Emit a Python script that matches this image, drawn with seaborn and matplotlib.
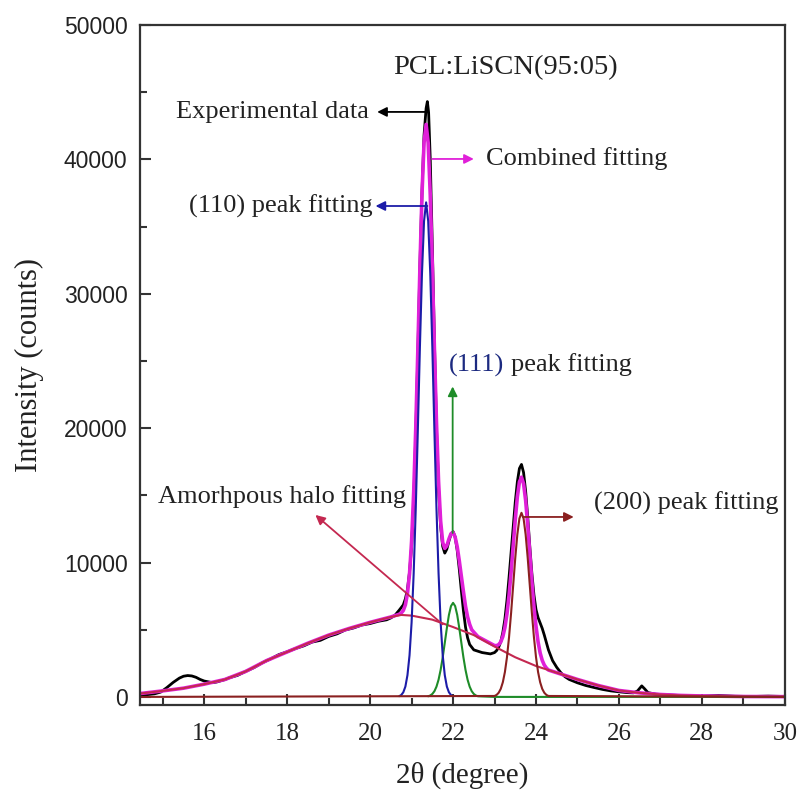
import matplotlib
matplotlib.use("Agg")
import matplotlib.pyplot as plt
import seaborn as sns
from matplotlib.ticker import MultipleLocator

# experimental XRD pattern
exp_x = [14.45, 14.6, 14.8, 14.95, 15.1, 15.25, 15.4, 15.5, 15.6, 15.7, 15.8, 15.9, 16.0, 16.1, 16.2,
         16.3, 16.5, 16.6, 16.8, 17.0, 17.2, 17.4, 17.6, 17.8, 18.0, 18.2, 18.4, 18.6, 18.8, 19.0,
         19.2, 19.4, 19.6, 19.8, 20.0, 20.2, 20.4, 20.5, 20.6, 20.7, 20.8, 20.85, 20.9, 20.95, 21.0,
         21.05, 21.1, 21.15, 21.2, 21.25, 21.3, 21.35, 21.38, 21.41, 21.45, 21.5, 21.55, 21.6, 21.65,
         21.7, 21.75, 21.8, 21.85, 21.9, 21.95, 22.0, 22.05, 22.1, 22.15, 22.2, 22.25, 22.3, 22.35,
         22.4, 22.5, 22.6, 22.7, 22.8, 22.9, 23.0, 23.05, 23.1, 23.15, 23.2, 23.25, 23.3, 23.35, 23.4,
         23.45, 23.5, 23.55, 23.6, 23.65, 23.7, 23.75, 23.8, 23.85, 23.9, 23.95, 24.0, 24.05, 24.1,
         24.15, 24.2, 24.3, 24.4, 24.5, 24.6, 24.7, 24.8, 25.0, 25.2, 25.4, 25.6, 25.8, 26.0, 26.2,
         26.35, 26.45, 26.55, 26.62, 26.7, 26.9, 27.2, 27.5, 28.0, 28.4, 28.8, 29.2, 29.6, 30.0]
exp_y = [120, 160, 230, 360, 700, 1080, 1400, 1540, 1590, 1560, 1460, 1300, 1180, 1120, 1060,
         1110, 1290, 1420, 1600, 1900, 2180, 2540, 2830, 3150, 3360, 3600, 3800, 4080, 4210, 4500,
         4690, 4980, 5130, 5350, 5460, 5630, 5740, 5880, 6080, 6450, 6850, 7300, 8000, 9300, 11200,
         14500, 19500, 25500, 32000, 37500, 41800, 43800, 44300, 43500, 40000, 33500, 26500, 20000, 15500,
         12700, 11200, 10700, 11000, 11600, 12100, 12300, 11900, 10900, 9500, 7900, 6400, 5200, 4400,
         3900, 3500, 3400, 3300, 3250, 3200, 3300, 3450, 3700, 4100, 4800, 5800, 7200, 8900, 10800,
         12700, 14500, 16000, 17000, 17300, 16700, 15300, 13400, 11200, 9200, 7600, 6500, 5900, 5500,
         5100, 4600, 3500, 2700, 2200, 1800, 1500, 1300, 1050, 850, 700, 560, 450, 380, 320,
         300, 450, 820, 600, 320, 200, 150, 100, 60, 110, 50, 30, 60, 30]

# combined fitting
comb_x = [14.45, 15.0, 15.5, 16.0, 16.5, 17.0, 17.5, 18.0, 18.5, 19.0, 19.5, 20.0, 20.5,
          20.7, 20.75, 20.8, 20.85, 20.9, 20.95, 21.0, 21.05, 21.1, 21.15, 21.2, 21.25, 21.3, 21.35,
          21.4, 21.45, 21.5, 21.55, 21.6, 21.65, 21.7, 21.75, 21.8, 21.85, 21.9, 21.95, 22.0, 22.05,
          22.1, 22.15, 22.2, 22.25, 22.3, 22.35, 22.4, 22.45, 22.5, 22.6, 22.8, 23.0, 23.05, 23.1,
          23.15, 23.2, 23.25, 23.3, 23.35, 23.4, 23.45, 23.5, 23.55, 23.6, 23.65, 23.7, 23.75, 23.8,
          23.85, 23.9, 23.95, 24.0, 24.05, 24.1, 24.15, 24.2, 24.25, 24.3, 24.5, 25.0, 25.5, 26.0,
          26.5, 27.0, 27.5, 28.0, 29.0, 30.0]
comb_y = [250, 450, 650, 950, 1300, 1900, 2700, 3350, 4000, 4600, 5100, 5550, 5950,
          6150, 6240, 6430, 6850, 7690, 9160, 11600, 15200, 19980, 25750, 31900, 37380, 41240, 42600,
          41220, 37340, 31970, 25900, 20400, 16050, 13080, 11500, 11050, 11250, 11750, 12150, 12250, 11890,
          11170, 10130, 8970, 7830, 6750, 5960, 5400, 5000, 4820, 4480, 4150, 3820, 3820, 3890,
          4090, 4490, 5160, 6180, 7580, 9310, 11260, 13190, 14880, 16000, 16350, 15870, 14620, 12800,
          10700, 8600, 6720, 5260, 4090, 3270, 2720, 2370, 2150, 2000, 1800, 1300, 850, 480,
          300, 180, 110, 70, 30, 20]

# amorphous halo fitting
halo_x = [14.45, 15.0, 15.5, 16.0, 16.5, 17.0, 17.5, 18.0, 18.5, 19.0, 19.5, 20.0, 20.5, 20.75,
          21.0, 21.5, 22.0, 22.5, 23.0, 23.5, 24.0, 24.5, 25.0, 25.5, 26.0, 26.5, 27.0, 27.5,
          28.0, 29.0, 30.0]
halo_y = [250, 450, 650, 950, 1300, 1900, 2700, 3350, 4000, 4600, 5100, 5550, 5950, 6100,
          6050, 5750, 5200, 4600, 3750, 2950, 2300, 1800, 1300, 850, 480, 300, 180, 110,
          70, 30, 20]

# (110) peak fitting
p110_x = [20.70, 20.75, 20.80, 20.85, 20.90, 20.95, 21.00, 21.05, 21.10, 21.15, 21.20, 21.25, 21.30,
          21.35, 21.40, 21.45, 21.50, 21.55, 21.60, 21.65, 21.70, 21.75, 21.80, 21.85, 21.90, 21.95,
          22.00]
p110_y = [55, 140, 345, 770, 1620, 3100, 5550, 9200, 14000, 19800, 26000, 31500, 35400,
          36800, 35400, 31500, 26000, 19800, 14000, 9200, 5550, 3100, 1620, 770, 345, 140,
          55]

# (111) peak fitting
p111_x = [21.40, 21.45, 21.50, 21.55, 21.60, 21.65, 21.70, 21.75, 21.80, 21.85, 21.90, 21.95, 22.00,
          22.05, 22.10, 22.15, 22.20, 22.25, 22.30, 22.35, 22.40, 22.45, 22.50, 22.55, 22.60, 23.0,
          30.0]
p111_y = [48, 106, 220, 424, 765, 1280, 2010, 2940, 4020, 5120, 6100, 6760, 7000,
          6760, 6100, 5120, 4020, 2940, 2010, 1280, 765, 424, 220, 106, 48, 0,
          0]

# (200) peak fitting
p200_x = [14.45, 23.00, 23.05, 23.10, 23.15, 23.20, 23.25, 23.30, 23.35, 23.40, 23.45, 23.50, 23.55,
          23.60, 23.65, 23.70, 23.75, 23.80, 23.85, 23.90, 23.95, 24.00, 24.05, 24.10, 24.15, 24.20,
          24.25, 24.30, 30.0]
p200_y = [0, 70, 150, 310, 600, 1090, 1850, 2960, 4450, 6270, 8310, 10340, 12090,
          13280, 13700, 13280, 12090, 10340, 8310, 6270, 4450, 2960, 1850, 1090, 600, 310,
          150, 70, 0]

c_mag = "#e020d8"
c_blue = "#1c1ca8"
c_green = "#1e8c28"
c_halo = "#c42850"
c_brown = "#8a2020"

sns.set_theme(style="ticks")
plt.rcParams["font.family"] = ["Liberation Serif", "DejaVu Serif"]

fig = plt.figure(figsize=(8, 7.93), dpi=100)
ax = fig.add_axes([0.175, 0.111, 0.806, 0.8575])

sns.lineplot(x=exp_x, y=exp_y, ax=ax, color="black", lw=2.0)
sns.lineplot(x=comb_x, y=comb_y, ax=ax, color=c_mag, lw=2.6)
sns.lineplot(x=halo_x, y=halo_y, ax=ax, color=c_halo, lw=1.5)
sns.lineplot(x=p111_x, y=p111_y, ax=ax, color=c_green, lw=1.5)
sns.lineplot(x=p110_x, y=p110_y, ax=ax, color=c_blue, lw=1.5)
sns.lineplot(x=p200_x, y=p200_y, ax=ax, color=c_brown, lw=1.5)

ax.set_xlim(14.45, 30)
ax.set_ylim(-600, 50000)
ax.xaxis.set_major_locator(MultipleLocator(2))
ax.xaxis.set_minor_locator(MultipleLocator(1))
ax.yaxis.set_major_locator(MultipleLocator(10000))
ax.yaxis.set_minor_locator(MultipleLocator(5000))
ax.tick_params(which="both", direction="in", top=False, right=False, width=1.5, color="#333333")
ax.tick_params(which="major", length=8)
ax.tick_params(which="minor", length=5)
ax.tick_params(axis="y", pad=9)
ax.tick_params(axis="x", pad=13)
for s in ax.spines.values():
    s.set_linewidth(1.6)
    s.set_color("#333333")

for lab in ax.get_yticklabels():
    lab.set_fontfamily("Liberation Sans")
    lab.set_fontsize(16.5)
    lab.set_color("#222222")
for lab in ax.get_xticklabels():
    lab.set_fontfamily("Liberation Serif")
    lab.set_fontsize(18)
    lab.set_color("#222222")

ax.set_xlabel("2θ (degree)", fontsize=21, labelpad=12, color="#222222")
ax.set_ylabel("Intensity (counts)", fontsize=22, labelpad=14, color="#222222")

tfs = 19
ax.text(23.27, 46800, "PCL:LiSCN(95:05)", fontsize=20.5, ha="center", va="center", color="#222222")

arr = dict(arrowstyle="-|>", lw=1.3, mutation_scale=14, shrinkA=0, shrinkB=0)
ax.annotate("", xy=(20.17, 43530), xytext=(21.38, 43530), arrowprops=dict(arr, color="black"))
ax.text(19.98, 43530, "Experimental data", fontsize=tfs, ha="right", va="center", color="#222222")

ax.annotate("", xy=(22.5, 40030), xytext=(21.5, 40030), arrowprops=dict(arr, color=c_mag))
ax.text(22.79, 40030, "Combined fitting", fontsize=tfs, ha="left", va="center", color="#222222")

ax.annotate("", xy=(20.13, 36530), xytext=(21.38, 36530), arrowprops=dict(arr, color=c_blue))
ax.text(20.05, 36530, "(110) peak fitting", fontsize=tfs, ha="right", va="center", color="#222222")

ax.annotate("", xy=(21.99, 23100), xytext=(21.99, 12200), arrowprops=dict(arr, color=c_green))
ax.text(21.89, 24700, "(111)", fontsize=tfs, ha="left", va="center", color="#1c2a80")
ax.text(23.40, 24700, "peak fitting", fontsize=tfs, ha="left", va="center", color="#222222")

ax.annotate("", xy=(24.91, 13390), xytext=(23.68, 13390), arrowprops=dict(arr, color=c_brown))
ax.text(25.39, 14430, "(200) peak fitting", fontsize=tfs, ha="left", va="center", color="#222222")

ax.annotate("", xy=(18.68, 13540), xytext=(21.75, 5400), arrowprops=dict(arr, color=c_halo))
ax.text(14.88, 14880, "Amorhpous halo fitting", fontsize=tfs, ha="left", va="center", color="#222222")

fig.savefig("out.png", dpi=100)
